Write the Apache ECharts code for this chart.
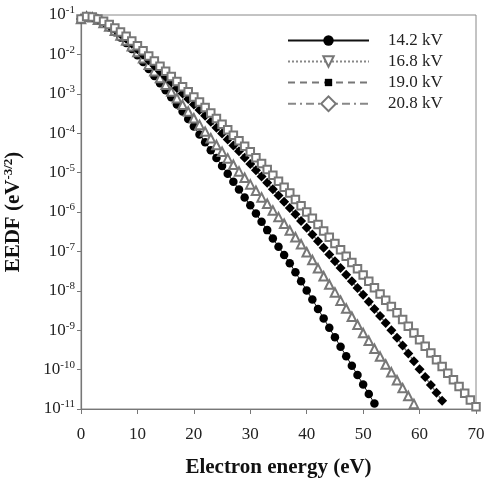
<!DOCTYPE html>
<html><head><meta charset="utf-8">
<script src="https://cdn.jsdelivr.net/npm/echarts@6/dist/echarts.min.js"></script>
<style>html,body{margin:0;padding:0;background:#fff}#c{width:484px;height:480px}</style>
</head><body><div id="c"></div>
<script>
// Electron energy (eV) for each point, 1 eV steps
const energy = [0,1,2,3,4,5,6,7,8,9,10,11,12,13,14,15,16,17,18,19,20,21,22,23,24,25,26,27,28,29,30,31,32,33,34,35,36,37,38,39,40,41,42,43,44,45,46,47,48,49,50,51,52,53,54,55,56,57,58,59,60,61,62,63,64,65,66,67,68,69,70];
const seriesNames = ['14.2 kV','16.8 kV','19.0 kV','20.8 kV'];
// EEDF values given as log10(EEDF / eV^-3/2)
const log10Eedf_14_2 = [-1.10,-1.04,-1.07,-1.14,-1.22,-1.32,-1.44,-1.57,-1.71,-1.86,-2.02,-2.19,-2.37,-2.55,-2.73,-2.91,-3.09,-3.27,-3.45,-3.64,-3.83,-4.03,-4.23,-4.43,-4.63,-4.83,-5.03,-5.23,-5.43,-5.63,-5.83,-6.04,-6.25,-6.46,-6.67,-6.88,-7.09,-7.30,-7.53,-7.76,-7.99,-8.22,-8.46,-8.70,-8.94,-9.18,-9.42,-9.66,-9.90,-10.14,-10.38,-10.62,-10.86];
const log10Eedf_16_8 = [-1.10,-1.04,-1.06,-1.12,-1.20,-1.29,-1.40,-1.52,-1.65,-1.79,-1.94,-2.10,-2.26,-2.43,-2.60,-2.77,-2.94,-3.11,-3.28,-3.45,-3.62,-3.79,-3.96,-4.13,-4.30,-4.47,-4.64,-4.80,-4.97,-5.13,-5.30,-5.46,-5.63,-5.79,-5.96,-6.13,-6.30,-6.47,-6.64,-6.82,-7.02,-7.22,-7.43,-7.63,-7.84,-8.04,-8.25,-8.45,-8.66,-8.86,-9.07,-9.27,-9.47,-9.67,-9.87,-10.07,-10.27,-10.47,-10.67,-10.87];
const log10Eedf_19_0 = [-1.10,-1.04,-1.06,-1.11,-1.18,-1.27,-1.37,-1.48,-1.60,-1.73,-1.87,-2.01,-2.15,-2.29,-2.43,-2.57,-2.71,-2.85,-2.99,-3.13,-3.27,-3.41,-3.56,-3.71,-3.86,-4.01,-4.16,-4.31,-4.46,-4.62,-4.78,-4.94,-5.10,-5.26,-5.42,-5.58,-5.74,-5.90,-6.06,-6.23,-6.40,-6.57,-6.74,-6.91,-7.08,-7.25,-7.42,-7.59,-7.76,-7.93,-8.10,-8.28,-8.46,-8.64,-8.82,-9.00,-9.19,-9.39,-9.59,-9.79,-9.99,-10.19,-10.39,-10.59,-10.79];
const log10Eedf_20_8 = [-1.10,-1.04,-1.05,-1.10,-1.16,-1.24,-1.33,-1.43,-1.54,-1.66,-1.78,-1.91,-2.04,-2.17,-2.30,-2.43,-2.56,-2.69,-2.82,-2.95,-3.08,-3.21,-3.35,-3.49,-3.63,-3.77,-3.91,-4.05,-4.19,-4.33,-4.47,-4.62,-4.77,-4.92,-5.07,-5.22,-5.37,-5.52,-5.68,-5.84,-6.00,-6.16,-6.32,-6.48,-6.64,-6.80,-6.96,-7.12,-7.28,-7.44,-7.60,-7.76,-7.92,-8.08,-8.24,-8.40,-8.56,-8.73,-8.90,-9.07,-9.24,-9.41,-9.58,-9.75,-9.92,-10.09,-10.26,-10.43,-10.60,-10.77,-10.94];
const xTickValues = [0,10,20,30,40,50,60,70];
const yTickExponents = [-11,-10,-9,-8,-7,-6,-5,-4,-3,-2,-1];

const FONT = "'Liberation Serif','Times New Roman',serif";
function toPoints(logs){ return logs.map((v,i)=>[energy[i], Math.pow(10, v)]); }

const chart = echarts.init(document.getElementById('c'), null, {renderer:'canvas'});
chart.setOption({
  animation:false,
  backgroundColor:'#fff',
  grid:{left:81,right:8,top:15,bottom:71,show:true,borderColor:'#888',borderWidth:1,backgroundColor:'transparent',
    containLabel:false, outerBoundsMode:'none'},
  legend:{
    orient:'vertical', left:287, top:32, padding:0,
    itemWidth:81, itemHeight:13, itemGap:4,
    textStyle:{fontFamily:FONT,fontSize:17,color:'#222',lineHeight:16,padding:[0,0,0,14]},
    data:[
      {name:seriesNames[0]},
      {name:seriesNames[1], symbolRotate:180},
      {name:seriesNames[2], symbolRotate:45},
      {name:seriesNames[3], symbolRotate:45}
    ]
  },
  xAxis:{
    type:'value', min:xTickValues[0], max:xTickValues[xTickValues.length-1], interval:10,
    name:'Electron energy (eV)', nameLocation:'middle', nameGap:48,
    nameTextStyle:{fontFamily:FONT,fontSize:21,fontWeight:'bold',color:'#111'},
    axisLine:{show:true,lineStyle:{color:'#777',width:1.2}},
    axisTick:{show:true,inside:false,length:5,lineStyle:{color:'#777'}},
    axisLabel:{fontFamily:FONT,fontSize:17,color:'#222',margin:17,interval:0,hideOverlap:false,showMinLabel:true,showMaxLabel:true},
    splitLine:{show:false}
  },
  yAxis:{
    type:'log', logBase:10, min:Math.pow(10,yTickExponents[0]), max:Math.pow(10,yTickExponents[yTickExponents.length-1]),
    interval:1,
    name:'EEDF (eV{s|-3/2})', nameLocation:'middle', nameGap:56, nameRotate:90,
    nameTextStyle:{fontFamily:FONT,fontSize:21,fontWeight:'bold',color:'#111',
      rich:{s:{fontFamily:FONT,fontSize:13,fontWeight:'bold',color:'#111',padding:[0,0,10,0]}}},
    axisLine:{show:true,lineStyle:{color:'#777',width:1.2}},
    axisTick:{show:true,inside:false,length:4,interval:0,lineStyle:{color:'#777'}},
    minorTick:{show:false},
    axisLabel:{
      margin:6, interval:0, hideOverlap:false, showMinLabel:true, showMaxLabel:true,
      formatter:function(v){ const e=Math.round(Math.log10(v)); return '{b|10}{s|'+e+'}'; },
      rich:{
        b:{fontFamily:FONT,fontSize:17,color:'#222',lineHeight:20,verticalAlign:'middle'},
        s:{fontFamily:FONT,fontSize:11,color:'#222',lineHeight:11,verticalAlign:'top'}
      }
    },
    splitLine:{show:false}
  },
  series:[
    {name:seriesNames[0], type:'line', data:toPoints(log10Eedf_14_2), symbol:'circle', symbolSize:8.5,
      itemStyle:{color:'#000'}, lineStyle:{color:'#111',width:1,type:'solid'}, z:2},
    {name:seriesNames[1], type:'line', data:toPoints(log10Eedf_16_8), symbol:'emptyTriangle', symbolSize:8.5,
      itemStyle:{color:'#777',borderWidth:1.3}, lineStyle:{color:'#888',width:1,type:'dotted'}, z:3},
    {name:seriesNames[2], type:'line', data:toPoints(log10Eedf_19_0), symbol:'diamond', symbolSize:10,
      itemStyle:{color:'#000'}, lineStyle:{color:'#777',width:1.5,type:[7,5]}, z:4},
    {name:seriesNames[3], type:'line', data:toPoints(log10Eedf_20_8), symbol:'emptyRect', symbolSize:7.5,
      itemStyle:{color:'#777',borderWidth:1.4}, lineStyle:{color:'#888',width:1.5,type:[8,4,2,4]}, z:5}
  ]
});
</script></body></html>
